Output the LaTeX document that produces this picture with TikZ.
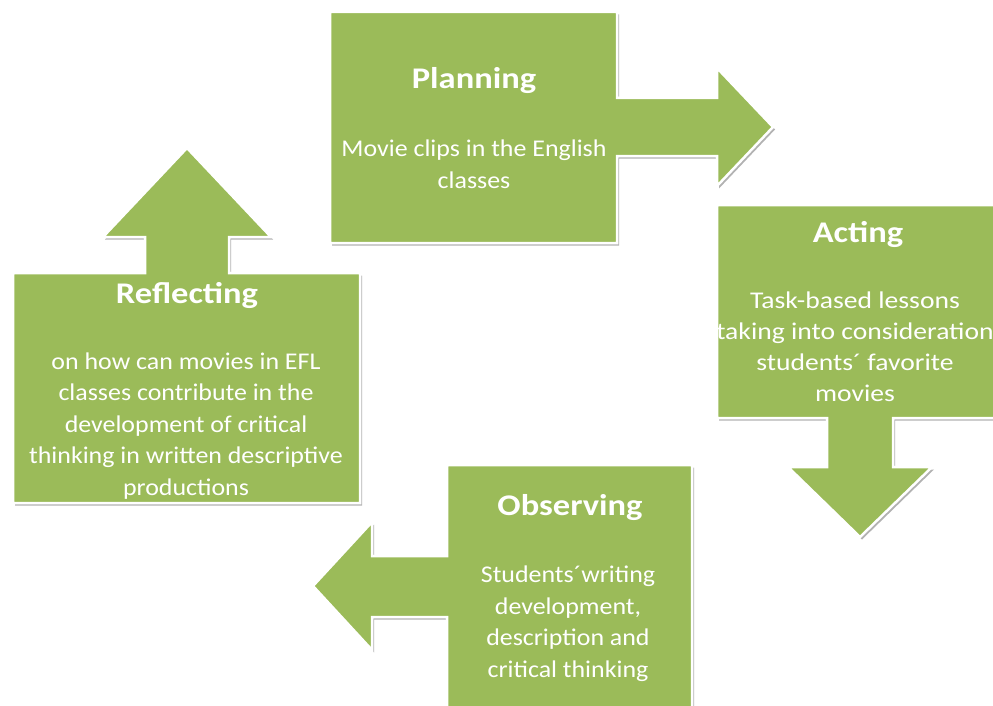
\documentclass[tikz,border=0pt]{standalone}
\usepackage{fontspec}
\setmainfont{Carlito}
\newfontfamily\bodyfont{Carlito}[FakeStretch=1.08]
\newfontfamily\actfont{Carlito}[FakeStretch=1.15, WordSpace=0.6]
\newfontfamily\ttlfont{Carlito}[FakeStretch=1.15]
\usetikzlibrary{shadows}
\definecolor{leafgreen}{HTML}{9BBB59}
\begin{document}
\begin{tikzpicture}[x=1pt,y=-1pt,
  callout/.style={fill=leafgreen, draw=white, line width=2.5pt, line join=miter,
    drop shadow={shadow xshift=2pt, shadow yshift=-2.5pt, opacity=0.3, fill=black}},
  ttl/.style={text=white, anchor=base, inner sep=0pt, font=\fontsize{30}{34}\ttlfont\bfseries},
  bdy/.style={text=white, anchor=base, inner sep=0pt, align=center, font=\fontsize{24}{31.5}\bodyfont},
  actbdy/.style={bdy, font=\fontsize{24}{30.8}\actfont}]
\useasboundingbox (0,0) rectangle (993,706);
\clip (0,0) rectangle (993,706);
\fill[white] (0,0) rectangle (993,706);
% Planning
\path[callout] (330,12) -- (617,12) -- (617,98) -- (717,98) -- (717,68) -- (773,127) -- (717,186)
  -- (717,156) -- (617,156) -- (617,243) -- (330,243) -- cycle;
% Acting
\path[callout] (717,205) -- (1005,205) -- (1005,418) -- (893,418) -- (893,467) -- (932,467)
  -- (860,537) -- (788,467) -- (827,467) -- (827,418) -- (717,418) -- cycle;
% Reflecting
\path[callout] (13,273) -- (145,273) -- (145,237) -- (103,237) -- (187,148) -- (271,237)
  -- (229,237) -- (229,273) -- (360,273) -- (360,503) -- (13,503) -- cycle;
% Observing
\path[callout] (447,465) -- (692,465) -- (692,720) -- (447,720) -- (447,617) -- (372,617)
  -- (372,650) -- (313,586) -- (372,522) -- (372,556) -- (447,556) -- cycle;
% texts (body nodes are placed by the baseline of their last line)
\node[ttl] (plt) at (474,89) {Planning};
\node[bdy] (plb) at (474,188) {Movie clips in the English\\classes};
\node[ttl] (act) at (858,242) {Acting};
\node[actbdy] (acb) at (855,401) {Task-based lessons\\taking into consideration\\students´ favorite\\movies};
\node[ttl] (ret) at (187,303) {Reflecting};
\node[bdy] (reb) at (186,495) {on how can movies in EFL\\classes contribute in the\\development  of critical\\thinking in written descriptive\\productions};
\node[ttl] (obt) at (570,515) {Observing};
\node[bdy] (obb) at (568,677) {Students´writing\\development,\\description and\\critical thinking};
\end{tikzpicture}
\end{document}
